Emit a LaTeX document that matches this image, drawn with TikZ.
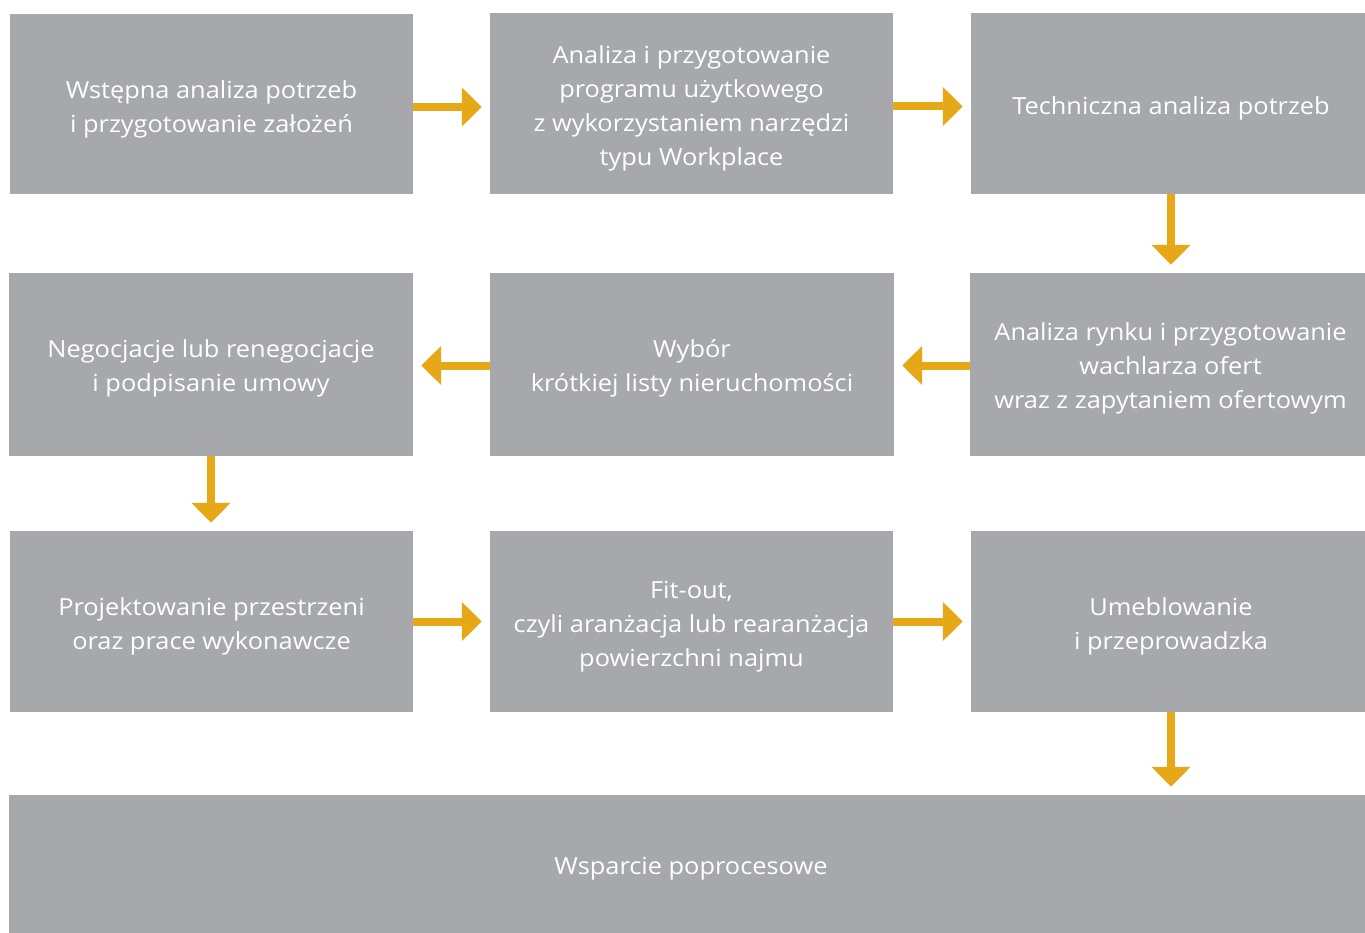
\documentclass[tikz,border=0pt]{standalone}
\usepackage{fontspec}
\setmainfont[FakeStretch=1.08]{Open Sans}
\usetikzlibrary{arrows.meta}
\definecolor{boxgray}{HTML}{A7A8AC}
\definecolor{flowgold}{HTML}{E6A817}
\begin{document}
\begin{tikzpicture}[x=1pt,y=-1pt,
  stepbox/.style={fill=boxgray, draw=none, inner sep=0pt},
  steptext/.style={text=white, align=center, inner sep=0pt,
    font=\fontsize{23.5}{34}\selectfont},
  flow/.style={draw=flowgold, line width=8pt,
    -{Triangle[length=20pt,width=38pt]}, shorten >=8pt}]
\useasboundingbox (0,0) rectangle (1365,933);
% first row
\node[stepbox, minimum width=403pt, minimum height=180pt] (b1) at (211.5,104) {};
\node[stepbox, minimum width=403pt, minimum height=181pt] (b2) at (691.5,103.5) {};
\node[stepbox, minimum width=394pt, minimum height=181pt] (b3) at (1168,103.5) {};
% second row
\node[stepbox, minimum width=404pt, minimum height=183pt] (b4) at (211,364.5) {};
\node[stepbox, minimum width=404pt, minimum height=183pt] (b5) at (692,364.5) {};
\node[stepbox, minimum width=395pt, minimum height=183pt] (b6) at (1167.5,364.5) {};
% third row
\node[stepbox, minimum width=403pt, minimum height=181pt] (b7) at (211.5,621.5) {};
\node[stepbox, minimum width=403pt, minimum height=181pt] (b8) at (691.5,621.5) {};
\node[stepbox, minimum width=394pt, minimum height=181pt] (b9) at (1168,621.5) {};
% final row
\node[stepbox, minimum width=1356pt, minimum height=138pt] (b10) at (687,864) {};
% box captions
\node[steptext] (t1) at ([yshift=-5pt]b1.center) {Wstępna analiza potrzeb\\i przygotowanie założeń};
\node[steptext] (t2) at ([yshift=-5pt]b2.center) {Analiza i przygotowanie\\programu użytkowego\\z wykorzystaniem narzędzi\\typu Workplace};
\node[steptext] (t3) at ([yshift=-5pt,xshift=3pt]b3.center) {Techniczna analiza potrzeb};
\node[steptext] (t4) at ([yshift=-4pt]b4.center) {Negocjacje lub renegocjacje\\i podpisanie umowy};
\node[steptext] (t5) at ([yshift=-4pt]b5.center) {Wybór\\krótkiej listy nieruchomości};
\node[steptext] (t6) at ([yshift=-4pt,xshift=3pt]b6.center) {Analiza rynku i przygotowanie\\wachlarza ofert\\wraz z zapytaniem ofertowym};
\node[steptext] (t7) at ([yshift=-5pt]b7.center) {Projektowanie przestrzeni\\oraz prace wykonawcze};
\node[steptext] (t8) at ([yshift=-5pt]b8.center) {Fit-out,\\czyli aranżacja lub rearanżacja\\powierzchni najmu};
\node[steptext] (t9) at ([yshift=-5pt,xshift=3pt]b9.center) {Umeblowanie\\i przeprowadzka};
\node[steptext] (t10) at ([yshift=-5pt,xshift=4pt]b10.center) {Wsparcie poprocesowe};
% connectors
\draw[flow] ([yshift=-3pt]b1.east) -- ([yshift=-3pt]b1.east -| b2.west);
\draw[flow] ([yshift=-3pt]b2.east) -- ([yshift=-3pt]b2.east -| b3.west);
\draw[flow] ([xshift=3pt]b3.south) -- ([xshift=3pt]b3.south |- b6.north);
\draw[flow] ([yshift=-1pt]b6.west) -- ([yshift=-1pt]b6.west -| b5.east);
\draw[flow] ([yshift=-1pt]b5.west) -- ([yshift=-1pt]b5.west -| b4.east);
\draw[flow] (b4.south) -- (b4.south |- b7.north);
\draw[flow] (b7.east) -- (b7.east -| b8.west);
\draw[flow] (b8.east) -- (b8.east -| b9.west);
\draw[flow] ([xshift=3pt]b9.south) -- ([xshift=3pt]b9.south |- b10.north);
\end{tikzpicture}
\end{document}
